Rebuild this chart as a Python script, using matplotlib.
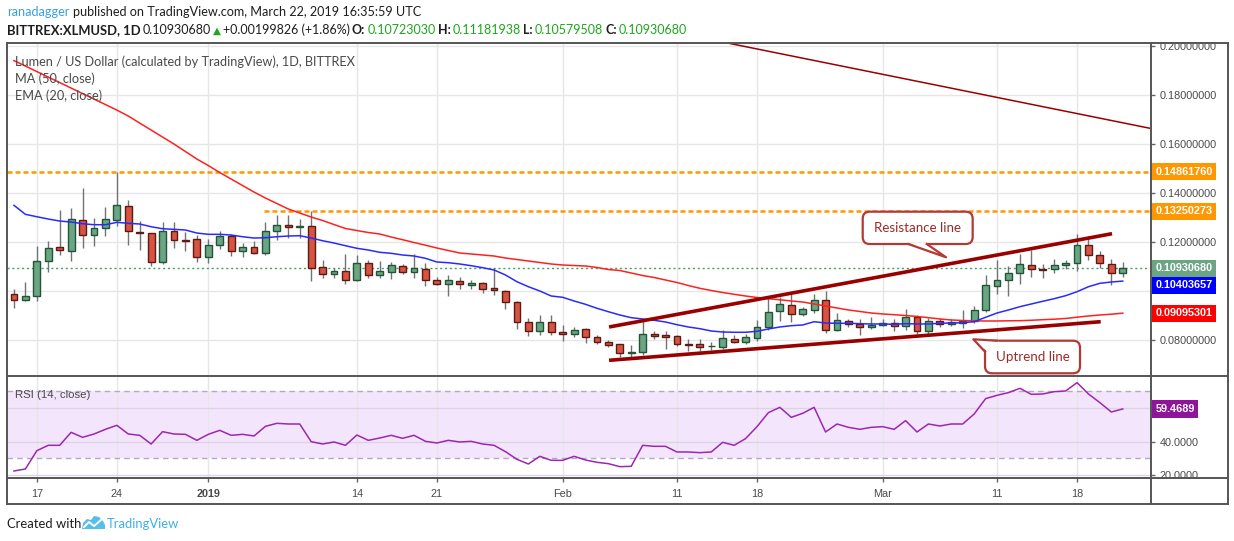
import matplotlib
matplotlib.use('Agg')
import matplotlib.pyplot as plt
import matplotlib.dates as mdates
import matplotlib.transforms as mtransforms
from matplotlib.patches import FancyBboxPatch, Polygon, Rectangle
from matplotlib.lines import Line2D
import numpy as np
import pandas as pd

plt.rcParams['font.family'] = ['Liberation Sans', 'DejaVu Sans']

# XLM/USD daily candles (Bittrex), prices in thousandths of a dollar
dates = pd.date_range('2018-12-15', '2019-03-22', freq='D')

opens = [98.65, 96.20, 97.84, 112.12, 117.83, 116.20, 128.85, 122.73, 125.58, 128.85,
         134.56, 124.07, 123.54, 111.71, 124.36, 120.69, 121.09, 113.75, 118.65, 122.32,
         116.20, 117.83, 115.38, 124.36, 126.81, 125.99, 126.40, 109.67, 106.81, 108.04,
         104.37, 111.30, 106.41, 107.63, 110.08, 107.63, 109.10, 104.37, 102.73, 103.96,
         102.33, 103.14, 101.10, 100.20, 95.39, 87.23, 83.56, 87.23, 83.15, 82.33,
         84.37, 81.11, 79.07, 78.25, 74.85, 74.99, 82.33, 81.92, 81.52, 78.25,
         78.25, 77.40, 77.03, 80.29, 79.07, 80.70, 85.19, 91.72, 94.17, 90.49,
         92.13, 96.20, 83.97, 87.64, 86.41, 85.19, 86.01, 86.82, 85.60, 89.51,
         83.56, 87.64, 86.41, 86.94, 87.64, 92.13, 101.92, 104.37, 107.22, 110.61,
         108.86, 108.86, 110.49, 111.30, 118.65, 114.57, 110.89, 107.23]
highs = [100.82, 103.67, 118.37, 120.40, 133.05, 133.74, 142.02, 129.66, 134.27, 148.62,
         137.13, 128.56, 123.80, 128.15, 128.15, 123.95, 122.73, 121.09, 124.48, 123.13,
         119.46, 120.40, 128.15, 131.01, 131.01, 129.38, 132.50, 112.53, 109.26, 115.10,
         114.69, 112.65, 112.12, 111.83, 110.89, 115.10, 111.30, 105.59, 106.41, 105.59,
         104.49, 103.80, 109.26, 100.40, 95.80, 88.98, 90.09, 90.09, 86.01, 85.19,
         84.78, 81.92, 79.88, 78.37, 77.85, 87.64, 83.68, 83.68, 81.92, 80.29,
         80.42, 79.19, 83.97, 81.92, 82.46, 88.05, 97.43, 97.43, 99.06, 93.35,
         98.65, 100.00, 90.90, 88.45, 88.45, 89.27, 88.45, 88.45, 92.53, 90.09,
         88.98, 88.98, 88.57, 92.25, 93.76, 106.41, 112.53, 110.08, 115.10, 116.73,
         111.02, 112.93, 112.53, 123.13, 122.32, 116.33, 113.06, 111.82]
lows = [93.18, 96.04, 96.04, 107.87, 114.81, 112.36, 117.67, 118.48, 122.56, 126.64,
        118.89, 116.85, 110.32, 110.89, 117.67, 116.44, 111.95, 111.55, 117.01, 114.40,
        113.99, 115.20, 114.57, 120.69, 121.50, 121.50, 104.20, 105.43, 105.43, 102.73,
        103.96, 105.18, 105.18, 105.02, 106.81, 105.30, 102.16, 102.33, 98.08, 100.94,
        100.94, 99.31, 98.49, 92.78, 84.50, 81.76, 82.17, 82.17, 79.72, 81.35,
        78.91, 78.50, 77.03, 72.95, 73.07, 74.01, 80.54, 76.46, 77.56, 75.64,
        75.64, 75.93, 76.34, 78.66, 78.25, 79.48, 83.97, 87.64, 87.23, 89.68,
        90.90, 82.74, 83.56, 85.19, 81.92, 84.37, 85.60, 83.56, 83.97, 82.46,
        82.46, 85.43, 85.84, 84.78, 87.07, 91.31, 98.65, 98.08, 102.73, 105.59,
        105.18, 107.47, 108.86, 108.04, 112.53, 109.26, 102.33, 105.80]
closes = [96.20, 97.96, 112.12, 117.42, 116.61, 129.25, 122.73, 125.58, 129.25, 134.97,
          124.36, 123.54, 111.71, 124.36, 120.69, 120.28, 113.75, 118.65, 122.32, 116.20,
          117.83, 115.38, 124.36, 126.81, 125.99, 126.10, 109.38, 106.81, 108.04, 104.37,
          111.30, 106.41, 108.04, 110.49, 107.63, 109.26, 104.37, 102.73, 104.37, 102.73,
          103.14, 100.94, 100.29, 95.39, 87.23, 83.56, 87.23, 83.15, 82.33, 83.97,
          81.11, 79.07, 77.76, 74.58, 74.95, 82.33, 81.76, 81.35, 78.25, 78.10,
          77.03, 77.50, 80.70, 79.07, 81.11, 85.19, 91.31, 94.57, 90.49, 92.53,
          96.20, 83.97, 88.05, 86.41, 85.19, 86.01, 86.82, 85.60, 89.27, 83.56,
          87.64, 86.41, 87.23, 87.64, 92.13, 102.33, 104.37, 107.22, 111.02, 108.86,
          108.45, 110.49, 111.42, 118.65, 114.57, 111.30, 107.31, 109.31]

# indicators as plotted (same units)
ma50 = [194.04, 191.80, 189.56, 187.31, 185.07, 182.82, 180.58, 178.34, 176.09, 173.85,
        171.40, 168.54, 165.69, 162.83, 159.98, 156.92, 153.86, 151.20, 148.35, 145.70,
        143.04, 140.39, 137.94, 135.70, 133.46, 131.82, 130.19, 128.76, 127.13, 125.50,
        124.68, 123.87, 123.26, 122.03, 120.93, 119.79, 118.69, 117.54, 116.52, 115.50,
        115.10, 114.69, 114.28, 113.46, 112.85, 112.24, 111.63, 111.02, 110.61, 110.40,
        110.20, 109.59, 108.77, 108.36, 107.34, 106.32, 105.51, 104.49, 103.47, 102.24,
        101.10, 100.20, 99.39, 98.65, 97.96, 97.35, 96.86, 96.41, 95.92, 95.51,
        94.70, 93.88, 93.06, 92.25, 91.64, 91.02, 90.62, 90.33, 90.00, 89.60,
        89.11, 88.57, 88.17, 87.96, 87.84, 87.76, 87.76, 87.84, 87.88, 88.05,
        88.29, 88.49, 88.78, 89.31, 89.80, 90.21, 90.53, 90.95]
ema20 = [134.97, 131.29, 130.31, 129.38, 128.56, 128.15, 127.46, 127.05, 127.05, 128.03,
         127.62, 127.34, 126.23, 125.42, 125.17, 124.89, 123.66, 123.13, 123.13, 122.85,
         122.15, 121.62, 121.75, 122.15, 122.44, 122.56, 121.62, 120.52, 119.58, 118.48,
         117.42, 116.73, 115.79, 115.38, 114.69, 114.28, 113.34, 111.83, 111.55, 111.02,
         110.32, 109.51, 108.57, 106.53, 103.79, 101.75, 100.00, 97.96, 97.43, 95.92,
         94.57, 92.94, 91.55, 90.21, 89.11, 88.57, 88.05, 87.35, 86.25, 85.31,
         84.62, 83.68, 83.27, 83.15, 83.15, 83.56, 84.50, 85.31, 85.84, 86.13,
         87.47, 86.94, 86.82, 86.82, 86.66, 86.54, 86.54, 86.41, 86.66, 86.54,
         86.54, 86.82, 86.94, 87.07, 87.47, 89.27, 91.02, 92.25, 93.59, 94.70,
         95.80, 96.86, 98.08, 99.71, 101.75, 103.14, 103.67, 104.04]
rsi14 = [22.42, 23.62, 34.56, 37.75, 37.75, 45.51, 42.52, 44.51, 47.30, 49.69,
         44.51, 43.72, 38.54, 45.90, 44.51, 44.31, 40.73, 44.31, 46.70, 43.72,
         44.31, 43.32, 49.09, 50.88, 50.48, 50.48, 39.93, 38.54, 39.74, 37.75,
         43.91, 40.73, 42.12, 43.72, 41.92, 43.72, 40.13, 39.14, 40.73, 39.74,
         40.13, 38.54, 37.75, 33.96, 29.39, 26.60, 31.18, 28.79, 28.79, 31.18,
         28.99, 27.60, 26.80, 25.01, 25.21, 37.75, 37.15, 37.15, 33.77, 33.77,
         33.37, 33.77, 39.54, 37.75, 41.73, 48.89, 57.25, 60.43, 54.46, 56.85,
         60.43, 45.71, 50.48, 48.49, 47.30, 48.49, 48.89, 47.30, 52.47, 45.71,
         50.48, 49.29, 50.48, 50.48, 56.45, 65.61, 67.60, 69.19, 71.77, 68.19,
         68.39, 69.78, 70.18, 75.16, 68.39, 63.22, 57.65, 59.47]

tick_dates = ['2018-12-17', '2018-12-24', '2019-01-01', '2019-01-14', '2019-01-21',
              '2019-02-01', '2019-02-11', '2019-02-18', '2019-03-01', '2019-03-11', '2019-03-18']
tick_labels = ['17', '24', '2019', '14', '21', 'Feb', '11', '18', 'Mar', '11', '18']
price_ticks = [0.08, 0.10, 0.12, 0.14, 0.16, 0.18, 0.20]
rsi_ticks = [20, 40, 60]

# drawings: (days after first candle, price)
level_high = 0.1486176
level_mid = 0.13250273
level_mid_start = 21.87
last_close = 0.1093068
last_ema = 0.10403657
last_ma = 0.09095301
last_rsi = 59.4689
resistance = [(52.06, 0.08531), (96.06, 0.12339)]
uptrend = [(52.06, 0.07171), (95.07, 0.08747)]
downtrend = [(62.55, 0.2011), (99.39, 0.1664)]

W, H = 1234, 541
fig = plt.figure(figsize=(W / 100, H / 100), dpi=100)
fig.patch.set_facecolor('white')
renderer = fig.canvas.get_renderer()


def fx(px):
    return px / W


def fy(py):
    return 1 - py / H


LEFT, RIGHT, TOP, MID, RSIB, BOT, EDGE = 7, 1151, 43, 376, 477.7, 504, 1228
ax = fig.add_axes([fx(LEFT), fy(MID), fx(RIGHT) - fx(LEFT), fy(TOP) - fy(MID)])
axr = fig.add_axes([fx(LEFT), fy(RSIB), fx(RIGHT) - fx(LEFT), fy(MID) - fy(RSIB)])

x = mdates.date2num(dates)
x0 = x[0]
tick_x = mdates.date2num(pd.to_datetime(tick_dates))

for a in (ax, axr):
    a.set_xlim(x0 - 0.61, x0 + 99.47)
    for s in a.spines.values():
        s.set_visible(False)
    a.set_xticks(tick_x)
    a.grid(axis='x', color='#e6e6e6', lw=1)
    a.set_axisbelow(True)
    a.yaxis.tick_right()

# ---- price panel
ax.set_ylim(0.065306, 0.20122)
ax.set_yticks(price_ticks)
# 0.10 label is covered by the EMA value tag
ax.set_yticklabels(['%.8f' % v if v != 0.10 else '' for v in price_ticks])
ax.tick_params(axis='y', length=3, width=1, color='#666666', labelsize=7.8,
               labelcolor='#4a4a4a', pad=3)
ax.tick_params(axis='x', length=0, labelbottom=False)
ax.grid(axis='y', color='#e6e6e6', lw=1)

o = np.array(opens) / 1000
h = np.array(highs) / 1000
l = np.array(lows) / 1000
c = np.array(closes) / 1000
up = c >= o
body_lo = np.minimum(o, c)
body_h = np.maximum(np.abs(c - o), 0.00035)

ax.vlines(x, l, h, color='#737375', lw=1, zorder=3)
ax.bar(x[up], body_h[up], bottom=body_lo[up], width=0.6, color='#6ba583',
       edgecolor='#225437', lw=1, zorder=4)
ax.bar(x[~up], body_h[~up], bottom=body_lo[~up], width=0.6, color='#d75442',
       edgecolor='#5b1a13', lw=1, zorder=4)

ax.plot(x, np.array(ma50) / 1000, color='#ff2020', lw=1.1, zorder=5)
ax.plot(x, np.array(ema20) / 1000, color='#2a2aff', lw=1.1, zorder=5)

ax.axhline(level_high, color='#ff9800', lw=1.8, ls=(0, (2, 1.2)), zorder=2)
ax.hlines(level_mid, x0 + level_mid_start, x0 + 100, color='#ff9800', lw=1.8,
          ls=(0, (2, 1.2)), zorder=2)
ax.axhline(last_close, color='#4f9a6c', lw=1, ls=(0, (1.5, 2)), zorder=2)

for line, lw in ((resistance, 2.6), (uptrend, 2.6), (downtrend, 1.1)):
    ax.plot([x0 + p[0] for p in line], [p[1] for p in line], color='#990000',
            lw=lw, solid_capstyle='butt', zorder=6)


def axis_tag(a, y, txt, bg):
    tr = mtransforms.blended_transform_factory(a.transAxes, a.transData)
    a.text(1 + 4.5 / 1144, y, txt, transform=tr, ha='left', va='center', fontsize=7.8,
           fontweight='bold', color='white', clip_on=False, zorder=30,
           bbox=dict(boxstyle='square,pad=0.33', fc=bg, ec='none'))


axis_tag(ax, level_high, '%.8f' % level_high, '#ff9800')
axis_tag(ax, level_mid, '%.8f' % level_mid, '#ff9800')
axis_tag(ax, last_close, '%.8f' % last_close, '#6ba583')
axis_tag(ax, min(last_ema, last_close - 17 / 2450), '%.8f' % last_ema, '#0000ff')
axis_tag(ax, last_ma, '%.8f' % last_ma, '#ff0000')


def callout(a, text, box, base, tip, color='#b13a36'):
    ident = mtransforms.IdentityTransform()
    bx0, bx1, ytop, ybot = box
    p0 = a.transData.transform((x0 + bx0, ybot))
    p1 = a.transData.transform((x0 + bx1, ytop))
    a.add_patch(FancyBboxPatch(p0, p1[0] - p0[0], p1[1] - p0[1],
                               boxstyle='round,pad=0,rounding_size=7', transform=ident,
                               fc='white', ec=color, lw=1.6, clip_on=False, zorder=20))
    b1 = a.transData.transform((x0 + base[0][0], base[0][1]))
    b2 = a.transData.transform((x0 + base[1][0], base[1][1]))
    t = a.transData.transform((x0 + tip[0], tip[1]))
    cx, cy = (p0 + p1) / 2
    inner = [b1 + (np.array([cx, cy]) - b1) * 0.06, t, b2 + (np.array([cx, cy]) - b2) * 0.06]
    a.add_patch(Polygon(inner, closed=True, transform=ident, fc='white', ec='none',
                        clip_on=False, zorder=21))
    a.add_line(Line2D([b1[0], t[0], b2[0]], [b1[1], t[1], b2[1]], transform=ident,
                      color=color, lw=1.6, clip_on=False, zorder=22))
    a.text(cx, cy, text, transform=ident, ha='center', va='center', color='#a02828',
           fontsize=9.6, family=['Lato', 'DejaVu Sans'], zorder=23)


callout(ax, 'Resistance line', (74.25, 83.87, 0.13237, 0.11918),
        ((78.24, 0.11918), (79.85, 0.11918)), (81.54, 0.11376))
callout(ax, 'Uptrend line', (84.95, 93.26, 0.07971, 0.06641),
        ((85.97, 0.07971), (84.95, 0.07522)), (83.93, 0.08029))

# ---- RSI panel
axr.set_ylim(18.42, 79.13)
axr.axhspan(30, 70, color='#f3e6fc', lw=0, zorder=0)
for lvl in (30, 70):
    axr.axhline(lvl, color='#b4aabd', lw=1, ls=(0, (4, 3)), zorder=1)
axr.set_yticks(rsi_ticks)
# the 60 label sits under the RSI value tag
axr.set_yticklabels(['%.4f' % v if v != 60 else '' for v in rsi_ticks])
axr.grid(axis='y', color='#ddd2e6', lw=1)
axr.plot(x, rsi14, color='#9c27b0', lw=1.1, zorder=5)
axr.tick_params(axis='y', length=3, width=1, color='#666666', labelsize=7.8,
                labelcolor='#4a4a4a', pad=3)
axr.set_xticklabels(tick_labels)
axr.tick_params(axis='x', length=3, width=1, color='#666666', labelsize=7.8,
                labelcolor='#4a4a4a', pad=5)
for lab in axr.get_xticklabels():
    if lab.get_text() == '2019':
        lab.set_fontweight('bold')
axis_tag(axr, last_rsi, '%.4f' % last_rsi, '#8e1599')

# hide the part of the RSI scale that falls below the panel
fig.add_artist(Rectangle((fx(RIGHT + 1), fy(BOT)), fx(EDGE) - fx(RIGHT + 1), fy(RSIB + 1) - fy(BOT),
                         transform=fig.transFigure, fc='white', ec='none', zorder=1))

# ---- frame
frame = dict(color='#555555', lw=1.4, zorder=5)
for (xa, ya, xb, yb) in [(LEFT, TOP, EDGE, TOP), (LEFT, BOT, EDGE, BOT), (LEFT, TOP, LEFT, BOT),
                         (EDGE, TOP, EDGE, BOT), (RIGHT, TOP, RIGHT, BOT),
                         (LEFT, MID, EDGE, MID), (LEFT, RSIB, EDGE, RSIB)]:
    fig.add_artist(Line2D([fx(xa), fx(xb)], [fy(ya), fy(yb)], transform=fig.transFigure, **frame))

# ---- texts
HEAD = ['Lato', 'DejaVu Sans']
dark = '#1e1e1e'
green = '#1fa51f'


def put(px, py, s, **kw):
    t = fig.text(fx(px), fy(py), s, va='baseline', **kw)
    return px + t.get_window_extent(renderer).width


end = put(7, 16.5, 'ranadagger', color='#3a9fe0', fontsize=9.1, family=HEAD)
put(end + 4, 16.5, 'published on TradingView.com, March 22, 2019 16:35:59 UTC',
    color=dark, fontsize=9.1, family=HEAD)

runs = [(7, 'BITTREX:XLMUSD, 1D', dark, 'bold', HEAD, 9.4),
        (134, '0.10930680', dark, 'normal', HEAD, 9.0),
        (202, '\u25b2', green, 'normal', ['DejaVu Sans'], 7.5),
        (215, '+0.00199826 (+1.86%)', dark, 'normal', HEAD, 9.0),
        (352, 'O:', dark, 'bold', HEAD, 9.0), (366, '0.10723030', green, 'normal', HEAD, 9.0),
        (438, 'H:', dark, 'bold', HEAD, 9.0), (452, '0.11181938', green, 'normal', HEAD, 9.0),
        (522, 'L:', dark, 'bold', HEAD, 9.0), (534, '0.10579508', green, 'normal', HEAD, 9.0),
        (604, 'C:', dark, 'bold', HEAD, 9.0), (617, '0.10930680', green, 'normal', HEAD, 9.0)]
end = 0
for px, s, col, wt, fam, size in runs:
    end = put(max(px, end + 2), 34, s, color=col, fontsize=size, fontweight=wt, family=fam)

legend_col = '#4a4a4a'
put(15, 66, 'Lumen / US Dollar (calculated by TradingView), 1D, BITTREX',
    color=legend_col, fontsize=9.2, family=HEAD)
put(15, 83, 'MA (50, close)', color=legend_col, fontsize=9.2, family=HEAD)
put(15, 100, 'EMA (20, close)', color=legend_col, fontsize=9.2, family=HEAD)
put(15, 398, 'RSI (14, close)', color=legend_col, fontsize=8.2)

# footer
put(7, 528, 'Created with', color=dark, fontsize=9.4, family=HEAD)
logo = [(82, 529), (83, 523), (87, 519), (91, 520), (94, 516), (99, 517), (103, 521),
        (105, 525), (105, 529)]
fig.add_artist(Polygon([(fx(a), fy(b)) for a, b in logo], closed=True, transform=fig.transFigure,
                       fc='#57bde9', ec='none'))
fig.add_artist(Line2D([fx(84), fx(89), fx(94), fx(101)], [fy(527), fy(522), fy(526), fy(520)],
                      transform=fig.transFigure, color='white', lw=1.4))
put(107, 528, 'TradingView', color='#3fb0e3', fontsize=9.4, family=HEAD)

fig.savefig('out.png', dpi=100)
